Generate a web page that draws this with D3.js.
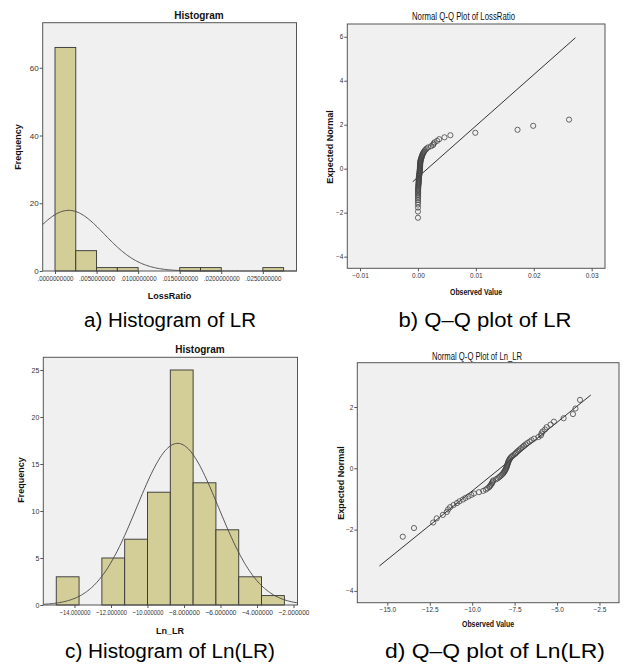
<!DOCTYPE html>
<html>
<head>
<meta charset="utf-8">
<script src="https://cdn.jsdelivr.net/npm/d3@7"></script>
<style>
  body { margin: 0; background: #fff; }
  svg { display: block; }
</style>
</head>
<body>
<svg id="fig" width="630" height="665"></svg>
<script>
// ---- data ----
// a) histogram of LossRatio
const lrBinStart = 0, lrBinWidth = 0.0025;
const lrCounts = [66, 6, 1, 1, 0, 0, 1, 1, 0, 0, 1];
const lrTicks = [0, 0.005, 0.01, 0.015, 0.02, 0.025];
const lrFreqTicks = [0, 20, 40, 60];
const lrMean = 0.00165, lrSD = 0.00429;

// c) histogram of Ln_LR
const lnBinStart = -15, lnBinWidth = 1.25;
const lnCounts = [3, 0, 5, 7, 12, 25, 13, 8, 3, 1];
const lnTicks = [-14, -12, -10, -8, -6, -4, -2];
const lnFreqTicks = [0, 5, 10, 15, 20, 25];
const lnMean = -8.35, lnSD = 2.233;

// observed Ln_LR values, sorted (from the Q-Q plot); LossRatio = exp(Ln_LR)
const lnLR = [
  -14.09, -13.43, -12.30, -12.09, -11.73, -11.50, -11.42, -11.30, -11.10, -10.90,
  -10.75, -10.55, -10.40, -10.22, -10.05, -9.90, -9.60, -9.35, -9.20, -9.10,
  -9.00, -8.95, -8.90, -8.85, -8.82, -8.79, -8.76, -8.60, -8.50, -8.42,
  -8.35, -8.28, -8.22, -8.17, -8.13, -8.09, -8.06, -8.03, -8.00, -7.98,
  -7.96, -7.94, -7.92, -7.90, -7.88, -7.86, -7.83, -7.80, -7.76, -7.71,
  -7.65, -7.57, -7.48, -7.42, -7.35, -7.28, -7.20, -7.12, -7.03, -6.95,
  -6.85, -6.75, -6.62, -6.50, -6.35, -6.10, -5.95, -5.915, -5.857, -5.71,
  -5.61, -5.386, -5.185, -4.615, -4.063, -3.917, -3.646
];
const lossRatio = lnLR.map(Math.exp);

// b) Q-Q of LossRatio
const qqLrTicksX = [-0.01, 0, 0.01, 0.02, 0.03];
const qqLrTicksY = [-4, -2, 0, 2, 4, 6];
const qqLrLine = [-0.0009, 0.0272];
// d) Q-Q of Ln_LR
const qqLnTicksX = [-15, -12.5, -10, -7.5, -5, -2.5];
const qqLnTicksY = [-4, -2, 0, 2];
const qqLnLine = [-15.47, -3.01];

// ---- helpers ----
const svg = d3.select("#fig");
const FONT = "'Liberation Sans', Arial, sans-serif";
const BG = "#f0f0f0", FRAME = "#555", BAR = "#d3cd98", INK = "#333";

// inverse standard normal (Acklam)
function invNorm(p) {
  const a = [-39.69683028665376, 220.9460984245205, -275.9285104469687, 138.3577518672690, -30.66479806614716, 2.506628277459239];
  const b = [-54.47609879822406, 161.5858368580409, -155.6989798598866, 66.80131188771972, -13.28068155288572];
  const c = [-0.007784894002430293, -0.3223964580411365, -2.400758277161838, -2.549732539343734, 4.374664141464968, 2.938163982698783];
  const d = [0.007784695709041462, 0.3224671290700398, 2.445134137142996, 3.754408661907416];
  const pl = 0.02425;
  let q, r;
  if (p < pl) {
    q = Math.sqrt(-2 * Math.log(p));
    return (((((c[0]*q+c[1])*q+c[2])*q+c[3])*q+c[4])*q+c[5]) / ((((d[0]*q+d[1])*q+d[2])*q+d[3])*q+1);
  }
  if (p > 1 - pl) {
    q = Math.sqrt(-2 * Math.log(1 - p));
    return -(((((c[0]*q+c[1])*q+c[2])*q+c[3])*q+c[4])*q+c[5]) / ((((d[0]*q+d[1])*q+d[2])*q+d[3])*q+1);
  }
  q = p - 0.5; r = q * q;
  return (((((a[0]*r+a[1])*r+a[2])*r+a[3])*r+a[4])*r+a[5])*q / (((((b[0]*r+b[1])*r+b[2])*r+b[3])*r+b[4])*r+1);
}

function label(txt, x, y, size, opts = {}) {
  const t = svg.append("text")
    .attr("x", x).attr("y", y)
    .attr("text-anchor", "middle")
    .attr("dominant-baseline", "central")
    .attr("font-family", opts.family || FONT)
    .attr("font-size", size)
    .attr("font-weight", opts.bold ? "bold" : "normal")
    .attr("fill", opts.fill || "#111")
    .text(txt);
  if (opts.len) t.attr("textLength", opts.len).attr("lengthAdjust", "spacingAndGlyphs");
  if (opts.rotate) t.attr("transform", `rotate(-90,${x},${y})`);
  return t;
}

function frameAndAxes(p, x, y) {
  const f = p.frame;
  svg.append("rect").attr("x", f.x0).attr("y", f.y0)
    .attr("width", f.x1 - f.x0).attr("height", f.y1 - f.y0).attr("fill", BG);

  const gx = svg.append("g").attr("transform", `translate(0,${f.y1})`)
    .call(d3.axisBottom(x).tickValues(p.xTicks).tickFormat(p.xFmt).tickSize(3).tickSizeOuter(0));
  const gy = svg.append("g").attr("transform", `translate(${f.x0},0)`)
    .call(d3.axisLeft(y).tickValues(p.yTicks).tickFormat(d3.format("d")).tickSize(3).tickSizeOuter(0));
  [gx, gy].forEach(g => {
    g.select(".domain").remove();
    g.selectAll("line").attr("stroke", FRAME);
    g.selectAll("text").attr("font-family", FONT).attr("fill", "#333");
  });
  gx.selectAll("text").attr("font-size", p.xTickSize).attr("dy", "0.71em").attr("y", 5)
    .attr("textLength", p.xTickLen).attr("lengthAdjust", "spacingAndGlyphs");
  gy.selectAll("text").attr("font-size", p.yTickSize).attr("x", -4);
}

function drawFrame(p) {
  const f = p.frame;
  svg.append("rect").attr("x", f.x0).attr("y", f.y0)
    .attr("width", f.x1 - f.x0).attr("height", f.y1 - f.y0)
    .attr("fill", "none").attr("stroke", FRAME).attr("stroke-width", 1);
}

function texts(p) {
  label(p.title, p.titlePos[0], p.titlePos[1], p.titleSize, { bold: p.titleBold, len: p.titleLen });
  label(p.xLabel, p.xLabelPos[0], p.xLabelPos[1], 9, { bold: true, len: p.xLabelLen });
  label(p.yLabel, p.yLabelPos[0], p.yLabelPos[1], 9, { bold: true, rotate: true, len: p.yLabelLen });
  label(p.caption, p.captionPos[0], p.captionPos[1], 20, { len: p.captionLen, fill: "#000" });
}

function drawHistogram(p) {
  const f = p.frame;
  const x = d3.scaleLinear().domain(p.xDomain).range([f.x0, f.x1]);
  const y = d3.scaleLinear().domain(p.yDomain).range([f.y1, f.y0]);
  frameAndAxes(p, x, y);

  const bins = p.counts.map((c, i) => ({ a: p.binStart + i * p.binWidth, b: p.binStart + (i + 1) * p.binWidth, c }))
    .filter(d => d.c > 0);
  svg.append("g").selectAll("rect").data(bins).join("rect")
    .attr("x", d => x(d.a)).attr("width", d => x(d.b) - x(d.a))
    .attr("y", d => y(d.c)).attr("height", d => y(0) - y(d.c))
    .attr("fill", BAR).attr("stroke", INK).attr("stroke-width", 0.9);

  // fitted normal curve
  const n = d3.sum(p.counts), k = n * p.binWidth / (p.sd * Math.sqrt(2 * Math.PI));
  const xs = d3.range(0, 201).map(i => p.xDomain[0] + (p.xDomain[1] - p.xDomain[0]) * i / 200);
  svg.append("path")
    .datum(xs)
    .attr("fill", "none").attr("stroke", "#444").attr("stroke-width", 0.9)
    .attr("d", d3.line().x(v => x(v)).y(v => y(k * Math.exp(-0.5 * ((v - p.mean) / p.sd) ** 2))));

  drawFrame(p);
  texts(p);
}

function drawQQ(p) {
  const f = p.frame;
  const x = d3.scaleLinear().domain(p.xDomain).range([f.x0, f.x1]);
  const y = d3.scaleLinear().domain(p.yDomain).range([f.y1, f.y0]);
  frameAndAxes(p, x, y);

  const n = p.values.length;
  const pts = p.values.map((v, i) => ({ v, z: invNorm((i + 1) / (n + 1)) }));

  svg.append("line")
    .attr("x1", x(p.line[0])).attr("y1", y((p.line[0] - p.mean) / p.sd))
    .attr("x2", x(p.line[1])).attr("y2", y((p.line[1] - p.mean) / p.sd))
    .attr("stroke", INK).attr("stroke-width", 1);

  svg.append("g").selectAll("circle").data(pts).join("circle")
    .attr("cx", d => x(d.v)).attr("cy", d => y(d.z)).attr("r", 2.6)
    .attr("fill", "none").attr("stroke", "#444").attr("stroke-width", 0.8);

  drawFrame(p);
  texts(p);
}

const fmtLR = v => d3.format(".10f")(v).replace(/^0/, "");

drawHistogram({
  frame: { x0: 42.7, x1: 296.5, y0: 22.7, y1: 271 },
  xDomain: [-0.00148, 0.02905], yDomain: [0, 73.3],
  binStart: lrBinStart, binWidth: lrBinWidth, counts: lrCounts,
  mean: lrMean, sd: lrSD,
  xTicks: lrTicks, xFmt: fmtLR, xTickSize: 7.5, xTickLen: 36,
  yTicks: lrFreqTicks, yTickSize: 8,
  title: "Histogram", titlePos: [199, 15], titleSize: 10, titleBold: true,
  xLabel: "LossRatio", xLabelPos: [169.5, 296],
  yLabel: "Frequency", yLabelPos: [18, 147],
  caption: "a)  Histogram  of  LR", captionPos: [170, 320], captionLen: 172
});

drawQQ({
  frame: { x0: 347.3, x1: 605, y0: 24, y1: 268.3 },
  xDomain: [-0.0122, 0.0323], yDomain: [-4.53, 6.58],
  values: lossRatio, mean: lrMean, sd: lrSD, line: qqLrLine,
  xTicks: qqLrTicksX, xFmt: d3.format(".2f"), xTickSize: 6.5, xTickLen: null,
  yTicks: qqLrTicksY, yTickSize: 6.5,
  title: "Normal Q-Q Plot of LossRatio", titlePos: [463.5, 16], titleSize: 10, titleBold: false, titleLen: 103,
  xLabel: "Observed Value", xLabelPos: [476, 292], xLabelLen: 52,
  yLabel: "Expected Normal", yLabelPos: [330, 147],
  caption: "b)  Q\u2013Q  plot  of  LR", captionPos: [485, 320], captionLen: 173
});

drawHistogram({
  frame: { x0: 43.3, x1: 297.5, y0: 357.3, y1: 605 },
  xDomain: [-15.71, -1.78], yDomain: [0, 26.35],
  binStart: lnBinStart, binWidth: lnBinWidth, counts: lnCounts,
  mean: lnMean, sd: lnSD,
  xTicks: lnTicks, xFmt: d3.format(".6f"), xTickSize: 7.5, xTickLen: 31,
  yTicks: lnFreqTicks, yTickSize: 7,
  title: "Histogram", titlePos: [200, 349], titleSize: 10, titleBold: true,
  xLabel: "Ln_LR", xLabelPos: [170, 631],
  yLabel: "Frequency", yLabelPos: [21, 480],
  caption: "c)  Histogram  of  Ln(LR)", captionPos: [170, 651], captionLen: 210
});

drawQQ({
  frame: { x0: 357.3, x1: 619, y0: 362.7, y1: 602.7 },
  xDomain: [-16.77, -1.35], yDomain: [-4.385, 3.445],
  values: lnLR, mean: lnMean, sd: lnSD, line: qqLnLine,
  xTicks: qqLnTicksX, xFmt: d3.format(".1f"), xTickSize: 6.5, xTickLen: null,
  yTicks: qqLnTicksY, yTickSize: 6.5,
  title: "Normal Q-Q Plot of Ln_LR", titlePos: [477, 356], titleSize: 10, titleBold: false, titleLen: 90,
  xLabel: "Observed Value", xLabelPos: [488, 624], xLabelLen: 52,
  yLabel: "Expected Normal", yLabelPos: [341, 483],
  caption: "d)  Q\u2013Q  plot  of  Ln(LR)", captionPos: [495, 651], captionLen: 220
});
</script>
</body>
</html>
